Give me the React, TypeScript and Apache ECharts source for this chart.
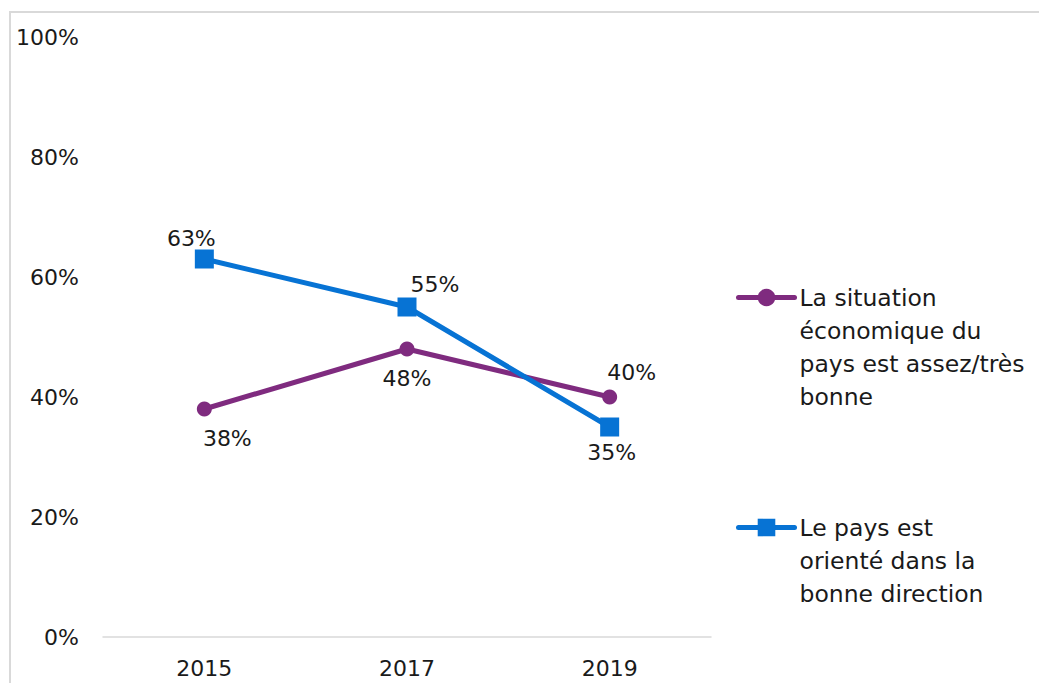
import React, { useEffect, useRef } from "react";
import * as echarts from "echarts";

const categories = ["2015", "2017", "2019"];
const seriesNames = [
  "La situation\néconomique du\npays est assez/très\nbonne",
  "Le pays est\norienté dans la\nbonne direction",
];
const economyValues = [38, 48, 40];
const directionValues = [63, 55, 35];
const yTicks = [0, 20, 40, 60, 80, 100];

const FONT = "DejaVu Sans";

export default function App() {
  const ref = useRef<HTMLDivElement>(null);
  useEffect(() => {
    document.body.style.margin = "0";
    const chart = echarts.init(ref.current!, null, { renderer: "svg" });
    const econOffsets = [[23, 29], [0, 29], [22, -25]];
    const dirOffsets = [[-13, -21], [28, -23], [2, 25]];
    const mk = (vals: number[], offs: number[][]) =>
      vals.map((v, i) => ({
        value: v,
        label: { offset: offs[i] },
      }));
    const legendBase = {
      orient: "vertical",
      left: 736,
      padding: 0,
      itemWidth: 56,
      itemHeight: 22,
      lineStyle: { width: 5, cap: "round" },
      textStyle: {
        fontSize: 23.5,
        lineHeight: 33,
        color: "#1a1a1a",
        fontFamily: FONT,
      },
    };
    chart.setOption({
      animation: false,
      backgroundColor: "#fff",
      textStyle: { fontFamily: FONT },
      graphic: [
        {
          type: "rect",
          shape: { x: 10, y: 12, width: 1100, height: 800 },
          style: { fill: "none", stroke: "#d9d9d9", lineWidth: 2 },
          silent: true,
        },
      ],
      grid: { left: 103, right: 328, top: 37, bottom: 46 },
      xAxis: {
        type: "category",
        data: categories,
        boundaryGap: true,
        axisLine: { lineStyle: { color: "#d9d9d9", width: 1.5 } },
        axisTick: { show: false },
        axisLabel: { color: "#1a1a1a", fontSize: 22, fontFamily: FONT, margin: 20 },
      },
      yAxis: {
        type: "value",
        min: yTicks[0],
        max: yTicks[yTicks.length - 1],
        interval: 20,
        axisLine: { show: false },
        axisTick: { show: false },
        splitLine: { show: false },
        axisLabel: {
          color: "#1a1a1a",
          fontSize: 22,
          fontFamily: FONT,
          margin: 24,
          formatter: (v: number) => v + "%",
        },
      },
      legend: [
        {
          ...legendBase,
          data: [seriesNames[0]],
          top: 182,
          formatter: (n: string) => "\n\n\n" + n,
        },
        {
          ...legendBase,
          data: [seriesNames[1]],
          top: 445,
          formatter: (n: string) => "\n\n" + n,
        },
      ],
      series: [
        {
          name: seriesNames[0],
          type: "line",
          data: mk(economyValues, econOffsets),
          symbol: "circle",
          symbolSize: 15,
          itemStyle: { color: "#7F2B7F" },
          lineStyle: { color: "#7F2B7F", width: 5 },
          label: {
            show: true,
            position: "inside",
            color: "#1a1a1a",
            fontSize: 22,
            fontFamily: FONT,
            formatter: "{c}%",
          },
        },
        {
          name: seriesNames[1],
          type: "line",
          data: mk(directionValues, dirOffsets),
          symbol: "rect",
          symbolSize: 19,
          itemStyle: { color: "#0773D4" },
          lineStyle: { color: "#0773D4", width: 5 },
          label: {
            show: true,
            position: "inside",
            color: "#1a1a1a",
            fontSize: 22,
            fontFamily: FONT,
            formatter: "{c}%",
          },
        },
      ],
    });
    return () => chart.dispose();
  }, []);
  return <div ref={ref} style={{ width: 1039, height: 683 }} />;
}
